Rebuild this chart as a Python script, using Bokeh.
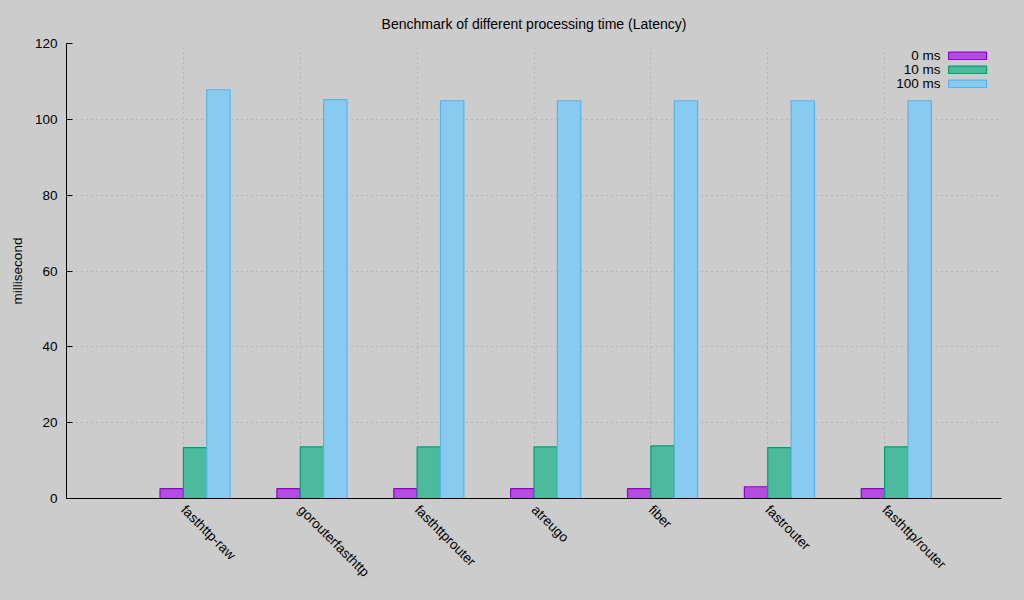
import math
from bokeh.plotting import figure
from bokeh.models import FixedTicker, Range1d
from bokeh.core.properties import value
from bokeh.embed import file_html
from bokeh.resources import INLINE

categories = ["fasthttp-raw", "gorouterfasthttp", "fasthttprouter", "atreugo",
              "fiber", "fastrouter", "fasthttp/router"]
ms0 = [2.6, 2.6, 2.6, 2.6, 2.6, 3.1, 2.6]
ms10 = [13.4, 13.6, 13.6, 13.6, 13.9, 13.4, 13.6]
ms100 = [107.8, 105.2, 104.9, 104.9, 104.9, 104.9, 104.9]
series_labels = ["0 ms", "10 ms", "100 ms"]
y_ticks = [0, 20, 40, 60, 80, 100, 120]

FONT = "Liberation Sans"
FS = "13.5px"
BG = "#cccccc"
fills = ["#b44ce0", "#4cbb9d", "#89cbf0"]
lines = ["#9400d3", "#009e73", "#56b4e9"]
offsets = [-0.1, 0.1, 0.3]
bar_w = 0.2

p = figure(width=1008, height=588, output_backend="svg", toolbar_location=None,
           x_range=Range1d(-1, 7), y_range=Range1d(0, 120),
           title="Benchmark of different processing time (Latency)",
           min_border_left=66, min_border_right=7, min_border_top=43,
           min_border_bottom=90)
p.background_fill_color = BG
p.border_fill_color = BG
p.outline_line_color = None

p.title.align = "center"
p.title.text_font = FONT
p.title.text_font_size = "14px"
p.title.text_font_style = "normal"
p.title.text_color = "#000000"
p.title.standoff = 24

idx = list(range(len(categories)))
for vals, off, fc, lc in zip([ms0, ms10, ms100], offsets, fills, lines):
    p.vbar(x=[i + off for i in idx], top=vals, bottom=0, width=bar_w,
           fill_color=fc, line_color=lc, line_width=1.2)

# axes
xa = p.xaxis[0]
xa.ticker = FixedTicker(ticks=idx)
xa.major_label_overrides = {i: c for i, c in zip(idx, categories)}
xa.major_label_orientation = -math.pi / 4
xa.major_tick_line_color = None
xa.minor_tick_line_color = None
xa.axis_line_color = "#000000"
xa.major_label_text_font = FONT
xa.major_label_text_font_size = FS
xa.major_label_text_color = "#000000"
xa.major_label_standoff = 3

ya = p.yaxis[0]
ya.ticker = FixedTicker(ticks=y_ticks)
ya.major_tick_in = 6
ya.major_tick_out = 0
ya.minor_tick_line_color = None
ya.axis_line_color = "#000000"
ya.major_tick_line_color = "#000000"
ya.major_label_text_font = FONT
ya.major_label_text_font_size = FS
ya.major_label_text_color = "#000000"
ya.major_label_standoff = 9
ya.axis_label = "millisecond"
ya.axis_label_text_font = FONT
ya.axis_label_text_font_size = FS
ya.axis_label_text_font_style = "normal"
ya.axis_label_text_color = "#000000"
ya.axis_label_standoff = 7

for g in (p.xgrid[0], p.ygrid[0]):
    g.grid_line_color = "#a0a0a0"
    g.grid_line_dash = "1 4"
    g.grid_line_width = 1
p.xgrid[0].ticker = FixedTicker(ticks=idx)
p.ygrid[0].ticker = FixedTicker(ticks=y_ticks)

# legend (gnuplot style: label then swatch)
leg_text_x = 6.478
leg_sw_x = 6.71
leg_sw_w = 0.325
leg_rows = [116.75, 113.06, 109.37]
leg_sw_h = 1.95
p.rect(x=[leg_sw_x] * 3, y=leg_rows, width=leg_sw_w, height=leg_sw_h,
       fill_color=fills, line_color=lines, line_width=1.2)
p.text(x=[leg_text_x] * 3, y=leg_rows, text=series_labels,
       text_align="right", text_baseline="middle",
       text_font=value(FONT), text_font_size=FS, text_color="#000000")

html = file_html(p, INLINE)
html = html.replace("</head>", "<style>body{background:#cccccc;}</style></head>", 1)
open("out.html", "w").write(html)
